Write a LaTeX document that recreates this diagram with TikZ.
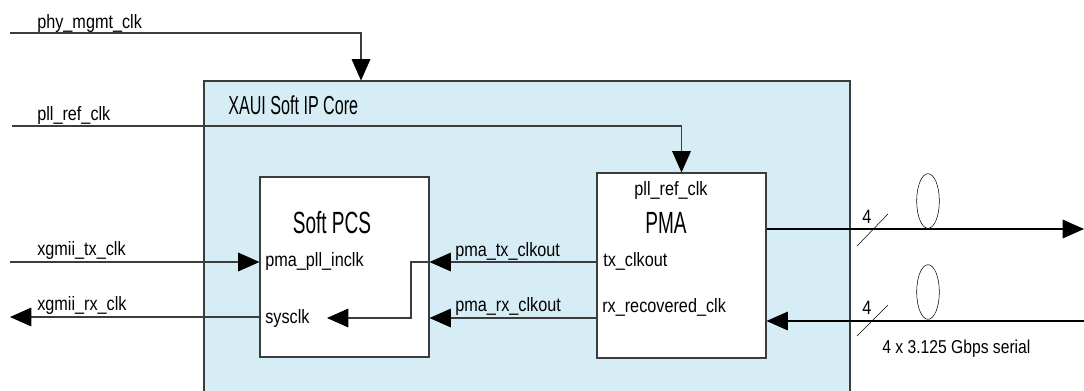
\documentclass[tikz,border=0pt]{standalone}
\usepackage{fontspec}
\setmainfont{Liberation Sans}
\newfontfamily\lblfont[FakeStretch=0.84]{Liberation Sans}
\newfontfamily\ttlfont[FakeStretch=0.62]{Liberation Sans}
\usetikzlibrary{arrows.meta, fit, shapes.geometric, positioning}
\definecolor{coreblue}{RGB}{214,237,245}
\definecolor{wire}{RGB}{60,60,60}

\begin{document}
\begin{tikzpicture}[x=0.75pt, y=-0.75pt,
    lbl/.style={font={\fontsize{14.5pt}{16pt}\lblfont}, inner sep=0pt, anchor=base west},
    ttl/.style={font={\fontsize{23pt}{24pt}\ttlfont}, inner sep=0pt, anchor=base},
    blk/.style={draw=wire, fill=white, inner sep=0pt, line width=0.8pt},
    sig/.style={draw=wire, line width=0.8pt, -{Triangle[length=16pt, width=14pt, color=black]}},
    lane/.style={draw, ellipse, minimum width=17pt, minimum height=41pt, inner sep=0pt}]
    \useasboundingbox (0,0) rectangle (1084,390);
    % core and blocks
    \node[blk, fill=coreblue, fit={(204,81) (850,396)}] (core) {};
    \node[ttl, anchor=base west, font={\fontsize{19.5pt}{21pt}\ttlfont}] (corettl) at (228,114) {XAUI Soft IP Core};
    \node[blk, fit={(260,177) (429,357)}] (pcs) {};
    \node[blk, fit={(597,173) (766,358)}] (pma) {};
    % rows
    \coordinate (phyin) at (10,33);
    \coordinate (phyx) at (361,0);
    \coordinate (pllin) at (12,126);
    \coordinate (txin) at (10,262);
    \coordinate (rxout) at (10,317);
    \coordinate (txrow) at (0,262);
    \coordinate (rxrow) at (0,318);
    \coordinate (loopx) at (411,0);
    \coordinate (sysin) at (327,318);
    \coordinate (serout) at (1084,229);
    \coordinate (serin) at (1084,321);
    % labels
    \node[lbl] (phylbl) at (37,28) {phy\_mgmt\_clk};
    \node[lbl] (plllbl) at (37,120) {pll\_ref\_clk};
    \node[lbl] (txlbl) at (37,255) {xgmii\_tx\_clk};
    \node[lbl] (rxlbl) at (37,310) {xgmii\_rx\_clk};
    \node[ttl] (pcsttl) at (332,233) {Soft PCS};
    \node[lbl] (inclk) at (265,266) {pma\_pll\_inclk};
    \node[lbl] (sysclk) at (265,323) {sysclk};
    \node[lbl] (txclk) at (455,256) {pma\_tx\_clkout};
    \node[lbl] (rxclk) at (455,311) {pma\_rx\_clkout};
    \node[lbl, anchor=base] (pmaref) at (671,195) {pll\_ref\_clk};
    \node[ttl] (pmattl) at (666,233) {PMA};
    \node[lbl] (pmatx) at (603,266) {tx\_clkout};
    \node[lbl] (pmarx) at (602,312) {rx\_recovered\_clk};
    \node[lbl] (txwidth) at (862,223) {4};
    \node[lbl] (rxwidth) at (862,314) {4};
    \node[lbl, font={\fontsize{14pt}{16pt}\lblfont}] (serlbl) at (882,353) {4 x 3.125 Gbps serial};
    \node[lane] (txlane) at (928,201) {};
    \node[lane] (rxlane) at (928,292) {};
    % clocks
    \draw[sig] (phyin) -| (phyx |- core.north);
    \draw[sig] (pllin) -| (pma.north);
    \draw[sig] (txin) -- (pcs.west |- txin);
    \draw[sig] (pcs.west |- rxout) -- (rxout);
    \draw[sig] (pma.west |- txrow) -- (pcs.east |- txrow);
    \draw[sig] (pma.west |- rxrow) -- (pcs.east |- rxrow);
    \draw[sig] (pcs.east |- txrow) -| (loopx |- rxrow) -- (sysin);
    % serial lanes
    \draw[sig, draw=black] (pma.east |- serout) -- (serout);
    \draw[sig, draw=black] (serin) -- (pma.east |- serin);
    \draw (857,246) -- (888,214);
    \draw (857,336) -- (888,305);
\end{tikzpicture}
\end{document}
